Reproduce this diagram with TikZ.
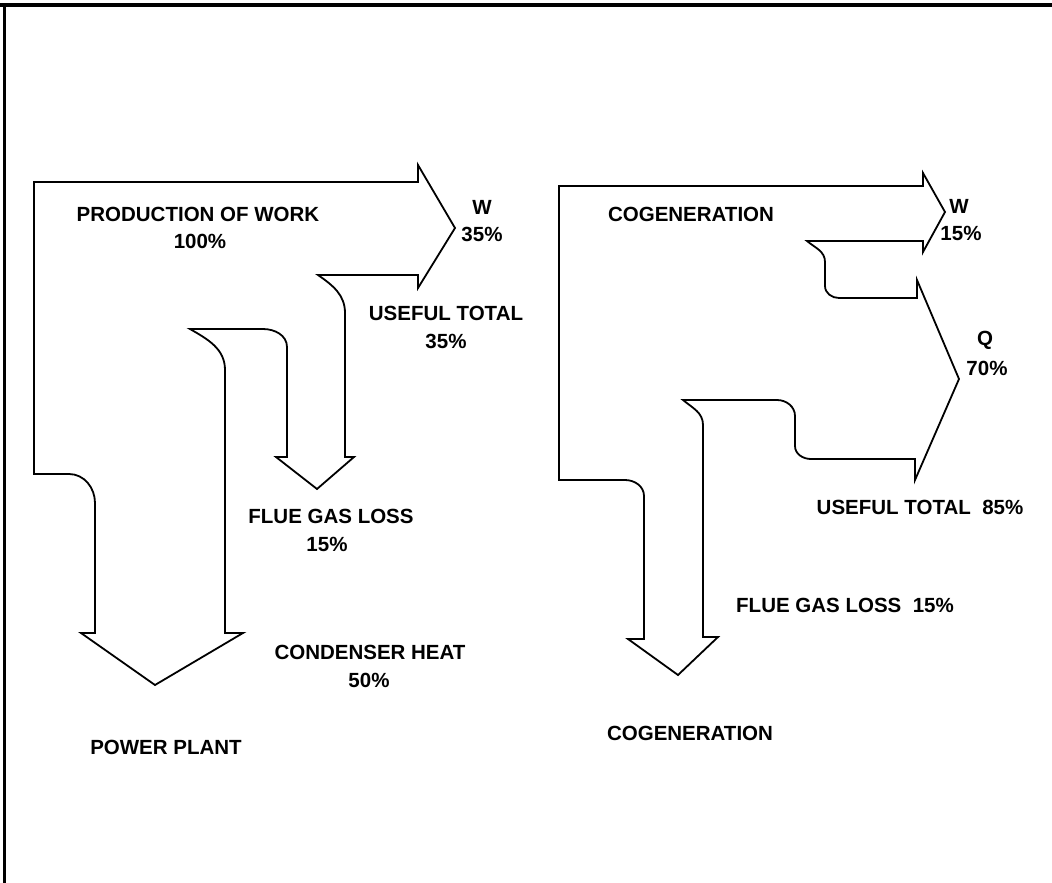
\documentclass[tikz,border=0pt]{standalone}
\usepackage{fontspec}
\setmainfont{Liberation Sans}
\begin{document}
\begin{tikzpicture}[x=1pt,y=-1pt,
  flow/.style={draw=black,line width=1.8pt,line join=miter,fill=white},
  lbl/.style={font=\bfseries\fontsize{20.5}{22}\selectfont,inner sep=0pt,align=center},
  frame/.style={draw=black,line width=3.2pt}]
\useasboundingbox (0,0) rectangle (1052,883);
\fill[white] (0,0) rectangle (1052,883);
% frame (top and left only)
\draw[frame] (0,5) -- (1052,5);
\draw[frame] (4.6,3.4) -- (4.6,883);

% ---------- power plant ----------
\draw[flow] (34,182) -- (418,182) -- (418,165) -- (455,228) -- (418,288) -- (418,275)
  -- (318,275) to[out=-35,in=90] (345,313) -- (345,457) -- (354,457) -- (317,489)
  -- (276,457) -- (287,457) -- (287,347) to[out=90,in=0] (263,329) -- (190,329)
  to[out=-30,in=90] (225,370) -- (225,633) -- (243,633) -- (155,685) -- (81,633)
  -- (95,633) -- (95,503) to[out=90,in=0] (69,474) -- (34,474) -- cycle;

\node[lbl] (pw) at (198,214) {PRODUCTION OF WORK};
\node[lbl] (pw100) at (200,241) {100\%};
\node[lbl] (w1) at (482,207) {W};
\node[lbl] (w1p) at (482,234) {35\%};
\node[lbl] (ut1) at (446,313) {USEFUL TOTAL};
\node[lbl] (ut1p) at (446,341) {35\%};
\node[lbl] (fg1) at (331,516) {FLUE GAS LOSS};
\node[lbl] (fg1p) at (327,544) {15\%};
\node[lbl] (ch) at (370,652) {CONDENSER HEAT};
\node[lbl] (chp) at (369,680) {50\%};
\node[lbl] (pp) at (166,747) {POWER PLANT};

% ---------- cogeneration ----------
\draw[flow] (559,186) -- (923,186) -- (923,173) -- (945,212) -- (923,252) -- (923,241)
  -- (807,241) to[out=-40,in=90] (825,262) -- (825,286) to[out=-90,in=180] (839,298)
  -- (917,298) -- (917,280) -- (959,379) -- (915,480) -- (915,459) -- (811,459)
  to[out=180,in=-90] (795,446) -- (795,416) to[out=90,in=0] (777,400) -- (683,400)
  to[out=-40,in=90] (703,425) -- (703,637) -- (718,637) -- (678,675) -- (628,639)
  -- (644,639) -- (644,496) to[out=90,in=0] (625,480) -- (559,480) -- cycle;

\node[lbl] (cg) at (691,214) {COGENERATION};
\node[lbl] (w2) at (959,206) {W};
\node[lbl] (w2p) at (961,233) {15\%};
\node[lbl] (q) at (985,340) {Q};
\node[lbl] (qp) at (987,368) {70\%};
\node[lbl] (ut2) at (920,507) {USEFUL TOTAL\ \ 85\%};
\node[lbl] (fg2) at (845,605) {FLUE GAS LOSS\ \ 15\%};
\node[lbl] (cg2) at (690,733) {COGENERATION};
\end{tikzpicture}
\end{document}
